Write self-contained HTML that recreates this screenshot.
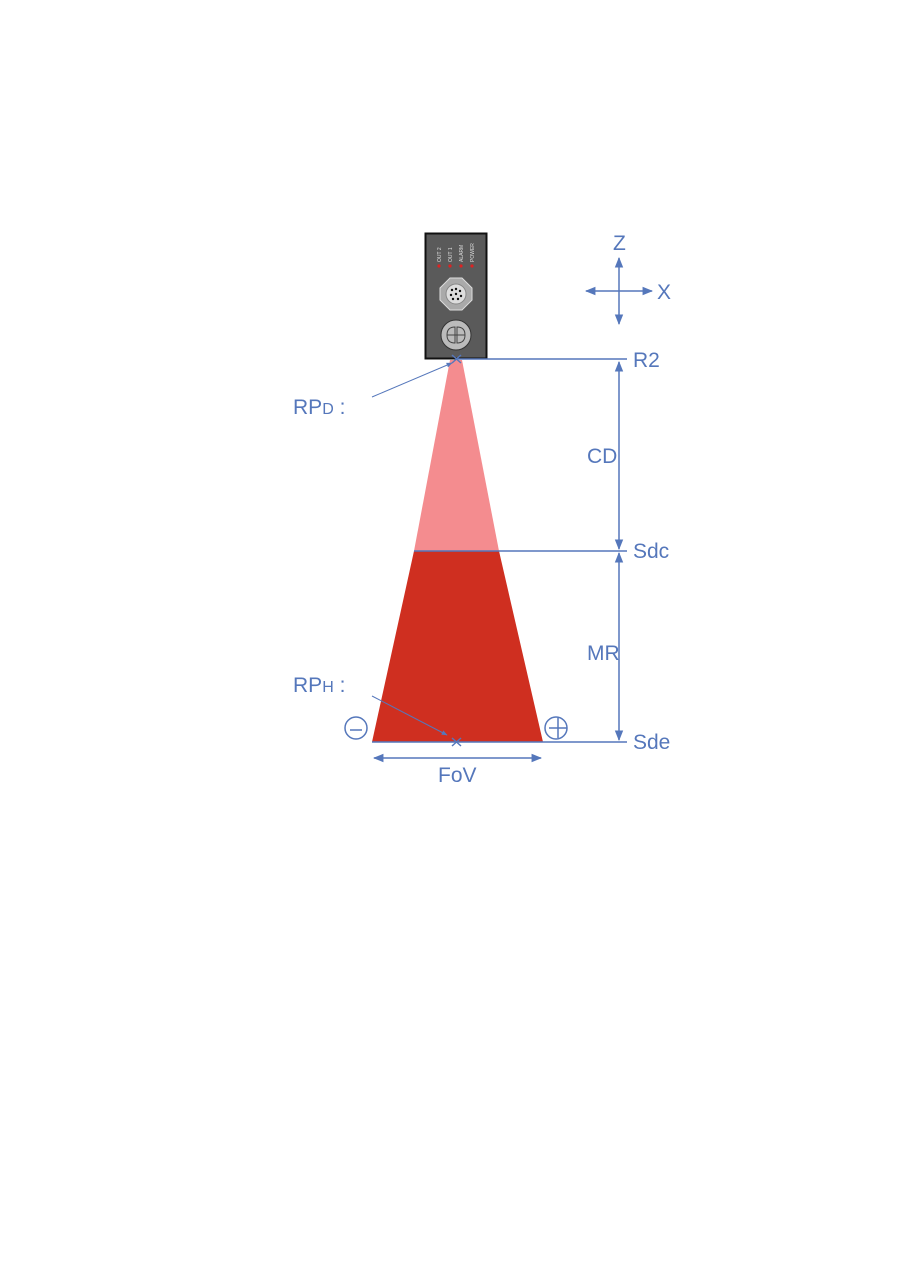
<!DOCTYPE html>
<html><head><style>body{margin:0;background:#fff}svg{display:block}</style></head>
<body>
<svg width="905" height="1280" xmlns="http://www.w3.org/2000/svg" font-family="Liberation Sans, DejaVu Sans, sans-serif">
<defs>
<marker id="a" viewBox="0 0 10 10" refX="9" refY="5" markerWidth="7" markerHeight="7" orient="auto-start-reverse"><path d="M0,1 L10,5 L0,9 z" fill="#5577bb"/></marker>
<marker id="s" viewBox="0 0 10 10" refX="9" refY="5" markerWidth="6" markerHeight="6" orient="auto"><path d="M0,1 L10,5 L0,9 z" fill="#5577bb"/></marker>
</defs>
<polygon points="450,360 462,360 499,551 414,551" fill="#f48c8f"/>
<polygon points="414,551 499,551 543,742 372,742" fill="#cf2f20"/>
<rect x="425.5" y="233.5" width="61" height="125" fill="#5a5a5a" stroke="#111" stroke-width="2"/>
<g fill="#ddd" font-size="5">
<text transform="translate(441,262) rotate(-90)">OUT 2</text>
<text transform="translate(452,262) rotate(-90)">OUT 1</text>
<text transform="translate(463,262) rotate(-90)">ALARM</text>
<text transform="translate(474,262) rotate(-90)">POWER</text>
</g>
<g fill="#d22"><circle cx="439" cy="266" r="1.6"/><circle cx="450" cy="266" r="1.6"/><circle cx="461" cy="266" r="1.6"/><circle cx="472" cy="266" r="1.6"/></g>
<polygon points="450,278 462,278 472,288 472,300 462,310 450,310 440,300 440,288" fill="#aaa" stroke="#ddd"/>
<circle cx="456" cy="294" r="10" fill="#ddd" stroke="#888"/>
<g fill="#111"><circle cx="452" cy="290" r="1.2"/><circle cx="456" cy="289" r="1.2"/><circle cx="460" cy="291" r="1.2"/><circle cx="451" cy="295" r="1.2"/><circle cx="456" cy="294" r="1.2"/><circle cx="461" cy="296" r="1.2"/><circle cx="453" cy="299" r="1.2"/><circle cx="458" cy="299" r="1.2"/></g>
<circle cx="456" cy="335" r="15" fill="#bbb" stroke="#333"/>
<g fill="none" stroke="#444"><path d="M455,327 q-8,0 -8,8 q0,8 8,8 z M457,327 q8,0 8,8 q0,8 -8,8 z M447,335 h18"/></g>
<g stroke="#5577bb" stroke-width="1.5" fill="none">
<line x1="456" y1="359" x2="627" y2="359"/>
<line x1="414" y1="551" x2="627" y2="551"/>
<line x1="372" y1="742" x2="627" y2="742"/>
<line x1="619" y1="362" x2="619" y2="549" marker-start="url(#a)" marker-end="url(#a)"/>
<line x1="619" y1="553" x2="619" y2="740" marker-start="url(#a)" marker-end="url(#a)"/>
<line x1="374" y1="758" x2="541" y2="758" marker-start="url(#a)" marker-end="url(#a)"/>
<line x1="619" y1="258" x2="619" y2="324" marker-start="url(#a)" marker-end="url(#a)"/>
<line x1="586" y1="291" x2="652" y2="291" marker-start="url(#a)" marker-end="url(#a)"/>
<line x1="372" y1="397" x2="452" y2="363" stroke-width="1" marker-end="url(#s)"/>
<line x1="372" y1="696" x2="447" y2="735" stroke-width="1" marker-end="url(#s)"/>
<path d="M452,738 l9,8 M461,738 l-9,8 M452,355 l9,8 M461,355 l-9,8"/>
<circle cx="356" cy="728" r="11"/><line x1="350" y1="730" x2="362" y2="730"/>
<circle cx="556" cy="728" r="11"/><line x1="549" y1="728" x2="567" y2="728"/><line x1="558" y1="718" x2="558" y2="738"/>
</g>
<g fill="#5577bb" font-size="21">
<text x="613" y="250">Z</text>
<text x="657" y="299">X</text>
<text x="633" y="367">R2</text>
<text x="587" y="463">CD</text>
<text x="633" y="558">Sdc</text>
<text x="587" y="660">MR</text>
<text x="633" y="749">Sde</text>
<text x="438" y="782">FoV</text>
<text x="293" y="414">RP<tspan font-size="16">D</tspan> :</text>
<text x="293" y="692">RP<tspan font-size="16">H</tspan> :</text>
</g>
</svg>
</body></html>
